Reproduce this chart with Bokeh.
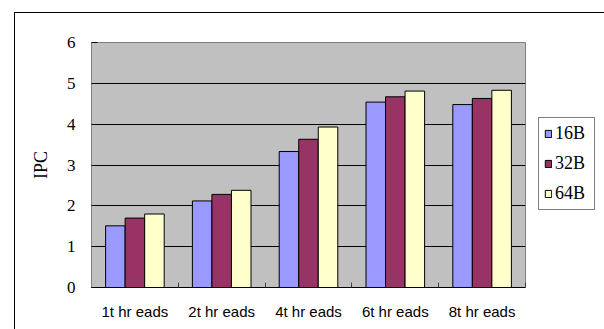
from bokeh.plotting import figure
from bokeh.models import ColumnDataSource, FixedTicker, Legend, LegendItem, Range1d
from bokeh.transform import dodge
from bokeh.embed import file_html
from bokeh.resources import INLINE

categories = ["1t hr eads", "2t hr eads", "4t hr eads", "6t hr eads", "8t hr eads"]
series_names = ["16B", "32B", "64B"]
ipc_16b = [1.51, 2.12, 3.33, 4.54, 4.48]
ipc_32b = [1.70, 2.28, 3.63, 4.67, 4.63]
ipc_64b = [1.80, 2.38, 3.93, 4.81, 4.83]
y_ticks = [0, 1, 2, 3, 4, 5, 6]
colors = ["#9999FF", "#993366", "#FFFFCC"]

n = len(categories)
centers = [i + 0.5 for i in range(n)]
source = ColumnDataSource(dict(x=centers, s16=ipc_16b, s32=ipc_32b, s64=ipc_64b))

p = figure(frame_width=434, frame_height=245, output_backend="svg", toolbar_location=None,
           x_range=Range1d(0, n), y_range=Range1d(0, 6),
           min_border_left=76, min_border_right=77, min_border_top=29, min_border_bottom=42)
p.styles = {"margin-left": "14px", "margin-top": "12px",
            "border-top": "1px solid black", "border-left": "1px solid black",
            "border-right": "1px solid black"}

p.background_fill_color = "#C0C0C0"
p.border_fill_color = "white"
p.outline_line_color = "#808080"
p.outline_line_width = 1

bw = 0.225
cols = ["s16", "s32", "s64"]
offsets = [-bw, 0.0, bw]
renderers = []
for c, off, col in zip(cols, offsets, colors):
    r = p.vbar(x=dodge("x", off, range=p.x_range), top=c, width=bw, source=source,
               fill_color=col, line_color="black", line_width=1)
    renderers.append(r)

# grid
p.xgrid.grid_line_color = None
p.ygrid.ticker = FixedTicker(ticks=y_ticks)
p.ygrid.grid_line_color = "black"
p.ygrid.grid_line_width = 1
p.ygrid.grid_line_alpha = 1.0

# x axis
p.xaxis.ticker = FixedTicker(ticks=centers, minor_ticks=list(range(n + 1)))
p.xaxis.major_label_overrides = {c: lab for c, lab in zip(centers, categories)}
p.xaxis.major_tick_in = 0
p.xaxis.major_tick_out = 0
p.xaxis.minor_tick_in = 5
p.xaxis.minor_tick_out = 0
p.xaxis.minor_tick_line_color = "#404040"
p.xaxis.axis_line_color = "black"
p.xaxis.major_label_text_font = "Liberation Sans"
p.xaxis.major_label_text_font_size = "15px"
p.xaxis.major_label_text_color = "black"
p.xaxis.major_label_standoff = 15

# y axis
p.yaxis.ticker = FixedTicker(ticks=y_ticks)
p.yaxis.major_tick_in = 6
p.yaxis.major_tick_out = 0
p.yaxis.minor_tick_line_color = None
p.yaxis.axis_line_color = "#808080"
p.yaxis.major_label_text_font = "Liberation Serif"
p.yaxis.major_label_text_font_size = "17px"
p.yaxis.major_label_text_color = "black"
p.yaxis.major_label_standoff = 16
p.yaxis.axis_label = "IPC"
p.yaxis.axis_label_text_font = "Liberation Serif"
p.yaxis.axis_label_text_font_size = "18px"
p.yaxis.axis_label_text_font_style = "normal"
p.yaxis.axis_label_text_color = "black"
p.yaxis.axis_label_standoff = 13

items = [LegendItem(label=nm, renderers=[r]) for nm, r in zip(series_names, renderers)]
legend = Legend(items=items, location=(13, 77), orientation="vertical")
legend.label_text_font = "Liberation Serif"
legend.label_text_font_size = "18px"
legend.label_text_color = "black"
legend.glyph_width = 8
legend.glyph_height = 9
legend.label_standoff = 3
legend.label_width = 34
legend.label_height = 20
legend.spacing = 9
legend.padding = 5
legend.margin = 0
legend.border_line_color = "black"
legend.border_line_width = 1
legend.background_fill_color = "white"
legend.background_fill_alpha = 1.0
p.add_layout(legend, "right")

open("out.html", "w").write(file_html(p, INLINE))
